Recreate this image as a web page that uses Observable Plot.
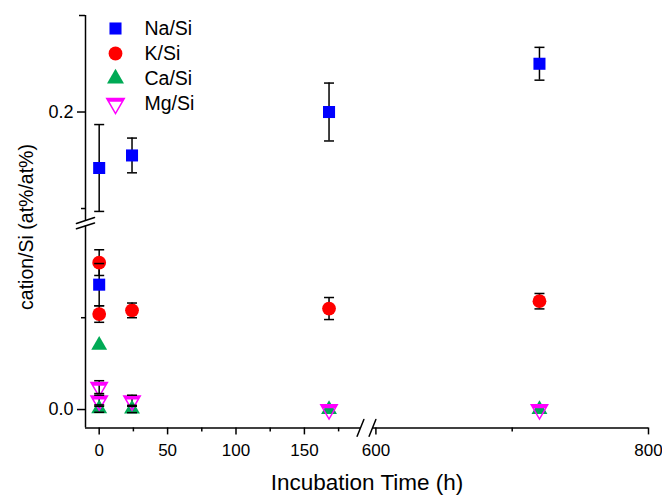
<!DOCTYPE html>
<html><head><meta charset="utf-8">
<script src="https://cdn.jsdelivr.net/npm/d3@7"></script>
<script src="https://cdn.jsdelivr.net/npm/@observablehq/plot@0.6"></script>
<style>
html,body{margin:0;padding:0;background:#fff;}
#chart{position:relative;width:662px;height:495px;font-family:"Liberation Sans",Arial,sans-serif;overflow:hidden;}
#chart > svg{position:absolute;left:0;top:0;}
.lbl{position:absolute;white-space:nowrap;color:#000;line-height:1;}
</style></head><body><div id="chart"></div>
<script>
// ---- data ----
const seriesNames = ["Na/Si", "K/Si", "Ca/Si", "Mg/Si"];
const naTime  = [0, 0, 24, 168, 720];
const naValue = [0.142, 0.068, 0.155, 0.200, 0.250];
const naError = [0.045, 0.0115, 0.018, 0.030, 0.017];
const kTime   = [0, 0, 24, 168, 720];
const kValue  = [0.080, 0.052, 0.054, 0.055, 0.059];
const kError  = [0.007, 0.0045, 0.004, 0.006, 0.0042];
const caTime  = [0, 0, 24, 168, 720];
const caValue = [0.035, 0.0005, 0.0003, 0.0, 0.0];
const caError = [0, 0.002, 0.002, 0, 0];
const mgTime  = [0, 0, 24, 168, 720];
const mgValue = [0.0122, 0.0048, 0.0048, 0.0, 0.0];
const mgError = [0.0035, 0.003, 0.003, 0, 0];
const xMajorTicks = [0, 50, 100, 150, 600, 800];
const xMinorTicks = [25, 75, 125, 175, 700];
const yLowerMajorTicks = [0.0];
const yLowerMinorTicks = [0.05];
const yUpperMajorTicks = [0.2];
const yUpperEndTicks = [0.3];
const yUpperMinorTicks = [0.1];
const xTitle = "Incubation Time (h)";
const yTitle = "cation/Si (at%/at%)";

// ---- build table ----
const colors = {"Na/Si": "#0000ff", "K/Si": "#ff0000", "Ca/Si": "#00aa55", "Mg/Si": "#ff00ff"};
function rowsOf(name, T, V, E) { return T.map((t, i) => ({series: name, t, v: V[i], e: E[i]})); }
const rows = [
  ...rowsOf("Na/Si", naTime, naValue, naError),
  ...rowsOf("K/Si", kTime, kValue, kError),
  ...rowsOf("Ca/Si", caTime, caValue, caError),
  ...rowsOf("Mg/Si", mgTime, mgValue, mgError)
];

// ---- scales (broken axes) ----
const W = 662, H = 495;
const xBreak = [191, 597.5];
const xDomain = [-10, xBreak[0], xBreak[1], 800];
const xScale = {type: "linear", domain: xDomain, range: [85, 360, 372, 648]};
const yLowDomain = [-0.01, 0.1];
const yUpDomain = [0.0876, 0.3];
const xSegments = [[xDomain[0], xDomain[1]], [xDomain[2], xDomain[3]]];

// ---- symbols ----
const capSymbol = {draw(ctx) { ctx.moveTo(-5, 0); ctx.lineTo(5, 0); }};
function triDims(size) { const w = Math.sqrt(4 * size / Math.sqrt(3)); return [w, w * Math.sqrt(3) / 2]; }
const triDown = {draw(ctx, size) {
  const [w, h] = triDims(size);
  ctx.moveTo(-w / 2, -h / 3); ctx.lineTo(w / 2, -h / 3); ctx.lineTo(0, 2 * h / 3); ctx.closePath();
}};
const triDownBand = {draw(ctx, size) {
  const [w, h] = triDims(size); const t = 3.4;
  const hw = y => (w / 2) * (2 * h / 3 - y) / h;
  const y0 = -h / 3, y1 = -h / 3 + t;
  ctx.moveTo(-hw(y0), y0); ctx.lineTo(hw(y0), y0); ctx.lineTo(hw(y1), y1); ctx.lineTo(-hw(y1), y1); ctx.closePath();
}};
const triUp = {draw(ctx, size) {
  const [w, h] = triDims(size);
  ctx.moveTo(-w / 2, h / 3); ctx.lineTo(w / 2, h / 3); ctx.lineTo(0, -2 * h / 3); ctx.closePath();
}};
const slash = {draw(ctx, l) { ctx.moveTo(0, 0); ctx.lineTo(0, -l); }};

const style = {fontFamily: "Liberation Sans, Arial, sans-serif", fontSize: "18px", background: "transparent", overflow: "visible", color: "black"};

function pointMarks(data) {
  const withErr = data.filter(d => d.e > 0);
  const sel = s => data.filter(d => d.series === s);
  return [
    Plot.ruleX(withErr, {x: "t", y1: d => d.v - d.e, y2: d => d.v + d.e, stroke: "black", strokeWidth: 1.5}),
    Plot.dot(sel("Na/Si"), {x: "t", y: "v", symbol: "square", r: 6.8, fill: colors["Na/Si"]}),
    Plot.dot(sel("K/Si"), {x: "t", y: "v", symbol: "circle", r: 6.9, fill: colors["K/Si"]}),
    Plot.dot(sel("Ca/Si"), {x: "t", y: "v", symbol: triUp, r: 5.9, fill: colors["Ca/Si"]}),
    Plot.dot(sel("Mg/Si"), {x: "t", y: "v", symbol: triDown, r: 6.1, fill: "none", stroke: colors["Mg/Si"], strokeWidth: 1.5}),
    Plot.dot(sel("Mg/Si"), {x: "t", y: "v", symbol: triDownBand, r: 6.1, fill: colors["Mg/Si"]}),
    Plot.dot(withErr, {x: "t", y: d => d.v + d.e, symbol: capSymbol, r: 5, stroke: "black", strokeWidth: 1.5}),
    Plot.dot(withErr, {x: "t", y: d => d.v - d.e, symbol: capSymbol, r: 5, stroke: "black", strokeWidth: 1.5})
  ];
}

const lowerRows = rows.filter(d => d.v <= 0.1);
const upperRows = rows.filter(d => d.v > 0.1);

const lower = Plot.plot({
  width: W, height: H, marginLeft: 85, marginRight: 14, marginTop: 225.4, marginBottom: 67.6,
  style,
  x: xScale,
  y: {domain: yLowDomain},
  marks: [
    Plot.ruleY(xSegments, {x1: d => d[0], x2: d => d[1], y: yLowDomain[0], stroke: "black", strokeWidth: 1.5}),
    Plot.ruleX([xDomain[0]], {y1: yLowDomain[0], y2: yLowDomain[1], stroke: "black", strokeWidth: 1.5}),
    Plot.axisX({ticks: xMajorTicks, tickSize: 7, tickPadding: 9, strokeWidth: 1.5, fontSize: 17, label: null}),
    Plot.axisX({ticks: xMinorTicks, tickSize: 4, text: null, strokeWidth: 1.5, label: null}),
    Plot.axisY({ticks: yLowerMajorTicks, tickSize: 8, tickPadding: 4, strokeWidth: 1.5, fontSize: 18, tickFormat: d3.format(".1f"), label: null}),
    Plot.axisY({ticks: yLowerMinorTicks, tickSize: 4, text: null, strokeWidth: 1.5, label: null}),
    Plot.vector(xBreak, {x: d => d, y: yLowDomain[0], length: 18, rotate: 22, anchor: "middle", shape: slash, stroke: "black", strokeWidth: 1.5}),
    Plot.vector([xDomain[0]], {x: d => d, y: yLowDomain[1], length: 19, rotate: 72, anchor: "middle", shape: slash, stroke: "black", strokeWidth: 1.5}),
    ...pointMarks(lowerRows)
  ]
});

const upper = Plot.plot({
  width: W, height: H, marginLeft: 85, marginRight: 14, marginTop: 15, marginBottom: 275,
  style,
  x: {...xScale, axis: null},
  y: {domain: yUpDomain},
  marks: [
    Plot.ruleX([xDomain[0]], {y1: yUpDomain[0], y2: yUpDomain[1], stroke: "black", strokeWidth: 1.5}),
    Plot.axisY({ticks: yUpperMajorTicks, tickSize: 8, tickPadding: 4, strokeWidth: 1.5, fontSize: 18, tickFormat: d3.format(".1f"), label: null}),
    Plot.axisY({ticks: yUpperEndTicks, tickSize: 6, text: null, strokeWidth: 1.5, label: null}),
    Plot.axisY({ticks: yUpperMinorTicks, tickSize: 4, text: null, strokeWidth: 1.5, label: null}),
    Plot.vector([xDomain[0]], {x: d => d, y: yUpDomain[0], length: 19, rotate: 72, anchor: "middle", shape: slash, stroke: "black", strokeWidth: 1.5}),
    ...pointMarks(upperRows)
  ]
});

const legend = Plot.plot({
  width: W, height: H, margin: 0, style,
  x: {domain: [0, 1], range: [115, 144], axis: null},
  y: {type: "point", domain: seriesNames, range: [28, 103], padding: 0, axis: null},
  marks: [
    Plot.dot([seriesNames[0]], {x: 0, y: d => d, symbol: "square", r: 6.8, fill: colors["Na/Si"]}),
    Plot.dot([seriesNames[1]], {x: 0, y: d => d, symbol: "circle", r: 6.9, fill: colors["K/Si"]}),
    Plot.dot([seriesNames[2]], {x: 0, y: d => d, symbol: triUp, r: 6.3, fill: colors["Ca/Si"]}),
    Plot.dot([seriesNames[3]], {x: 0, y: d => d, symbol: triDown, r: 6.5, fill: "none", stroke: colors["Mg/Si"], strokeWidth: 1.5}),
    Plot.dot([seriesNames[3]], {x: 0, y: d => d, symbol: triDownBand, r: 6.5, fill: colors["Mg/Si"]}),
    Plot.text(seriesNames, {x: 1, y: d => d, text: d => d, textAnchor: "start", fontSize: 19.5, fill: "black"})
  ]
});

const chart = document.getElementById("chart");
chart.append(lower, upper, legend);

const xl = document.createElement("div");
xl.className = "lbl"; xl.textContent = xTitle;
Object.assign(xl.style, {left: "367px", top: "472px", fontSize: "22.5px", transform: "translateX(-50%)"});
const yl = document.createElement("div");
yl.className = "lbl"; yl.textContent = yTitle;
Object.assign(yl.style, {left: "27px", top: "227px", fontSize: "19.5px", transform: "translate(-50%,-50%) rotate(-90deg)"});
chart.append(xl, yl);
</script>
</body></html>
